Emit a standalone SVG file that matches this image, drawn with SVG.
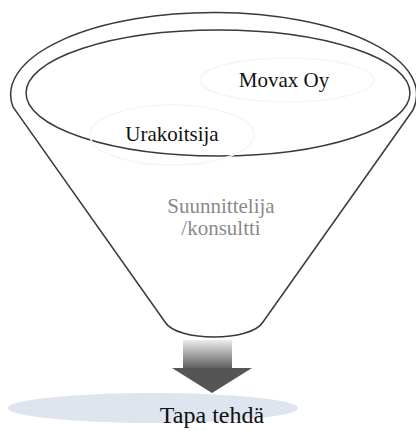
<svg xmlns="http://www.w3.org/2000/svg" width="416" height="431" viewBox="0 0 416 431">
<style>
.ln{fill:none;stroke:#3a3a3a;stroke-width:1.5}
.faint{fill:none;stroke:#f5f5f5;stroke-width:1.5}
text{font-family:'Liberation Serif','Times New Roman',serif;font-size:21px;fill:#111}
.g{fill:#8a8a8a}
</style>
<defs>
<linearGradient id="sh" x1="0" y1="0" x2="0" y2="1">
<stop offset="0" stop-color="#ececec"/>
<stop offset="1" stop-color="#5a5a5a"/>
</linearGradient>
</defs>
<g id="funnel">
<path class="ln" d="M13,107 A203,82 0 1 1 413,110 L263,322 C251,342 177,342 165,322 Z"/>
<ellipse class="ln" cx="218" cy="93" rx="192" ry="63"/>
<ellipse class="faint" cx="287" cy="80" rx="87" ry="22"/>
<ellipse class="faint" cx="172" cy="135" rx="82" ry="30"/>
</g>
<g id="movax"><text x="284" y="87" text-anchor="middle">Movax Oy</text></g>
<g id="urakoitsija"><text x="172" y="141" text-anchor="middle">Urakoitsija</text></g>
<g id="suunnittelija"><text class="g" x="221" y="213" text-anchor="middle">Suunnittelija</text><text class="g" x="221" y="235" text-anchor="middle">/konsultti</text></g>
<g id="result">
<ellipse cx="153" cy="408" rx="145" ry="15" fill="#dfe5ef"/>
<text x="212" y="423" text-anchor="middle" style="font-size:24px">Tapa tehdä</text>
</g>
<g id="connectors">
<rect x="183" y="340" width="49" height="29" fill="url(#sh)"/>
<polygon points="172,368 252,368 212,393" fill="#555"/>
</g>
</svg>
